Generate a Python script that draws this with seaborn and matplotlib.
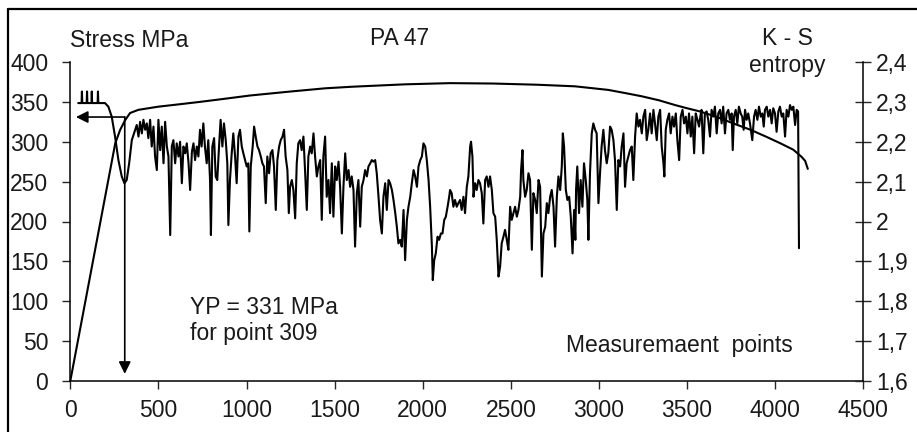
import numpy as np
import matplotlib
matplotlib.use("Agg")
import matplotlib.pyplot as plt
import seaborn as sns

# Stress curve (left axis, MPa)
stress_points = [0, 255, 283, 311, 339, 386, 500, 620, 736, 880, 1020, 1250, 1446, 1600,
                 1900, 2155, 2400, 2650, 2864, 3053, 3150, 3243, 3340, 3432, 3500, 3573,
                 3670, 3762, 3860, 3952, 4030, 4103, 4150, 4170, 4185]
stress_mpa = [0, 298, 315, 327, 336, 340, 344, 347, 350, 354, 358, 363, 367, 369,
              372, 373.5, 373, 371.5, 369.5, 365, 361, 357, 352, 346, 342, 338,
              331, 323, 315, 306, 298, 290, 281, 276, 266]

# K-S entropy (right axis)
ks_points = [
    45, 64, 66, 68, 93, 95, 97, 120, 122, 124, 155, 157, 159, 197, 216, 235, 254, 273,
    292, 307, 320, 334, 349, 368,
    377, 387, 396, 406, 415, 425, 434, 443, 453, 462, 472, 481, 491, 500, 510, 519,
    529, 538, 548, 557, 567, 576, 585, 595, 604, 614, 623, 633, 642, 652, 661, 671,
    680, 690, 699, 708, 718, 727,
    736, 745, 755, 764, 774, 783, 793, 798, 806, 816, 825, 834, 844, 853, 863, 872,
    882, 891, 897, 906, 916, 925, 935, 944, 954, 963, 973, 982, 992, 1001, 1010, 1016,
    1024, 1035, 1043, 1052, 1062, 1071, 1081, 1090, 1099, 1109, 1118, 1128, 1137, 1147,
    1156, 1166, 1175, 1185, 1194, 1204, 1213, 1222, 1232, 1240, 1247, 1257, 1266, 1276,
    1285, 1294, 1304, 1313, 1323, 1332, 1342, 1351, 1361, 1370, 1380, 1389, 1399, 1408,
    1418, 1427, 1436, 1446,
    1455, 1465, 1474, 1484, 1493, 1503, 1512, 1522, 1531, 1541, 1550, 1560, 1569, 1579,
    1588, 1597, 1607, 1616, 1626, 1635, 1645, 1654, 1664, 1673, 1683, 1692, 1702, 1711,
    1720, 1730, 1739, 1749, 1758, 1768, 1777, 1787, 1796, 1806, 1815, 1825, 1834, 1844,
    1853, 1862, 1872, 1881, 1891, 1900, 1910, 1919, 1929, 1938, 1948, 1957, 1967, 1976,
    1986, 1995, 2004, 2014, 2023, 2033, 2042, 2052, 2057, 2065, 2074, 2084, 2093, 2103,
    2112, 2122, 2131, 2141, 2150,
    2155, 2164, 2174, 2183, 2193, 2202, 2212, 2221, 2231, 2240, 2250, 2259, 2269, 2274,
    2282, 2288, 2297, 2306, 2316, 2325, 2335, 2344, 2354, 2363, 2373, 2382, 2392, 2401,
    2411, 2420, 2430, 2439, 2448, 2458, 2467, 2477, 2486, 2496, 2505, 2515, 2524, 2534,
    2543, 2553, 2558, 2566, 2571, 2581, 2590, 2600, 2609, 2619, 2628, 2638, 2647, 2657,
    2666, 2676, 2685, 2695, 2704, 2713, 2723, 2732, 2742, 2751, 2761, 2770, 2780, 2789,
    2795, 2802, 2812, 2821, 2831, 2840, 2850, 2859,
    2866, 2870, 2877, 2887, 2896, 2906, 2915, 2925, 2934, 2940, 2949, 2959, 2968, 2978,
    2987, 2997, 3006, 3015, 3025, 3034, 3044, 3053, 3063, 3072, 3082, 3091, 3101, 3110,
    3120, 3129, 3139, 3148, 3157, 3167, 3176, 3186, 3195, 3205, 3214, 3224, 3233, 3243,
    3252, 3262, 3271, 3280, 3290, 3299, 3309, 3318, 3328, 3337, 3347, 3356, 3366, 3371,
    3379, 3388, 3398, 3407, 3417, 3426, 3436, 3445, 3455, 3464, 3474, 3483, 3493, 3502,
    3511, 3521, 3530, 3540, 3549, 3559, 3568,
    3575, 3582, 3592, 3601, 3611, 3620, 3630, 3639, 3649, 3658, 3668, 3677, 3687, 3696,
    3705, 3715, 3724, 3734, 3743, 3753, 3759, 3766, 3776, 3785, 3794, 3804, 3813, 3821,
    3829, 3838, 3847, 3857, 3870, 3880, 3889, 3899, 3908, 3918, 3927, 3935, 3942, 3952,
    3961, 3971, 3980, 3989, 3999, 4008, 4018, 4027, 4037, 4046, 4056, 4065, 4075, 4084,
    4094, 4103, 4113, 4122, 4130, 4135,
]
ks_entropy = [
    2.297, 2.297, 2.326, 2.297, 2.297, 2.326, 2.297, 2.297, 2.326, 2.297, 2.297, 2.326,
    2.297, 2.297, 2.288, 2.263, 2.213, 2.154, 2.113, 2.096, 2.104, 2.146, 2.204, 2.230,
    2.242, 2.213, 2.250, 2.221, 2.255, 2.230, 2.246, 2.209, 2.255, 2.188, 2.238, 2.163,
    2.129, 2.255, 2.179, 2.238, 2.146, 2.250, 2.188, 2.163, 1.966, 2.188, 2.204, 2.146,
    2.196, 2.163, 2.200, 2.096, 2.188, 2.171, 2.196, 2.146, 2.079, 2.175, 2.196, 2.154,
    2.188, 2.163,
    2.230, 2.188, 2.246, 2.188, 2.146, 2.204, 2.104, 1.966, 2.188, 2.209, 2.113, 2.104,
    2.188, 2.255, 2.188, 2.246, 2.204, 2.146, 1.991, 2.104, 2.171, 2.221, 2.163, 2.096,
    2.213, 2.230, 2.188, 2.171, 2.154, 2.138, 2.146, 1.975, 2.138, 2.188, 2.238, 2.213,
    2.188, 2.179, 2.163, 2.146, 2.138, 2.046, 2.163, 2.121, 2.171, 2.179, 2.138, 2.029,
    2.154, 2.188, 2.204, 2.213, 2.230, 2.163, 2.129, 2.021, 2.087, 2.104, 2.079, 2.008,
    2.146, 2.196, 2.204, 2.179, 2.213, 2.129, 2.029, 2.163, 2.188, 2.171, 2.221, 2.163,
    2.113, 2.138, 2.154, 2.004, 2.163, 2.213,
    2.062, 2.104, 2.021, 2.146, 2.012, 2.138, 2.104, 2.150, 2.087, 1.970, 2.087, 2.171,
    2.104, 2.129, 2.087, 2.113, 2.079, 1.937, 2.071, 2.104, 1.987, 2.087, 2.104, 2.129,
    2.113, 2.138, 2.146, 2.154, 2.150, 2.154, 2.121, 2.062, 2.004, 1.970, 2.062, 2.096,
    2.029, 2.104, 2.096, 2.079, 2.054, 2.021, 1.987, 1.945, 1.954, 1.937, 2.029, 1.903,
    2.004, 2.037, 2.062, 2.096, 2.129, 2.113, 2.087, 2.138, 2.154, 2.163, 2.196, 2.188,
    2.154, 2.104, 2.037, 1.937, 1.853, 1.903, 1.920, 1.962, 1.954, 1.970, 1.970, 2.004,
    2.012, 2.037, 2.062,
    2.079, 2.071, 2.037, 2.054, 2.037, 2.046, 2.054, 2.029, 2.062, 2.021, 2.087, 2.113,
    2.188, 2.200, 2.163, 2.062, 2.096, 2.079, 2.104, 2.096, 2.071, 1.995, 2.104, 2.113,
    2.087, 2.113, 2.079, 2.021, 2.012, 1.954, 1.862, 1.887, 1.945, 1.962, 1.979, 1.954,
    1.929, 2.037, 2.004, 2.021, 2.037, 2.012, 2.029, 2.062, 2.129, 2.179, 2.104, 2.062,
    2.079, 2.121, 2.104, 1.929, 2.071, 2.054, 2.021, 2.104, 2.087, 1.862, 1.970, 1.987,
    2.046, 2.021, 2.062, 2.079, 2.037, 1.937, 2.062, 2.113, 2.079, 2.138, 2.221, 2.188,
    2.079, 2.054, 2.062, 2.012, 1.920, 2.029,
    1.954, 2.079, 2.138, 2.021, 2.104, 2.037, 2.146, 2.104, 2.054, 1.954, 2.121, 2.221,
    2.246, 2.230, 2.221, 2.046, 2.121, 2.188, 2.230, 2.179, 2.146, 2.171, 2.238, 2.230,
    2.204, 2.154, 2.029, 2.154, 2.138, 2.188, 2.221, 2.087, 2.146, 2.163, 2.179, 2.188,
    2.104, 2.213, 2.271, 2.238, 2.255, 2.221, 2.263, 2.280, 2.204, 2.230, 2.271, 2.221,
    2.280, 2.246, 2.204, 2.263, 2.280, 2.188, 2.146, 2.113, 2.230, 2.255, 2.271, 2.221,
    2.263, 2.238, 2.271, 2.204, 2.154, 2.263, 2.280, 2.246, 2.263, 2.221, 2.271, 2.213,
    2.263, 2.171, 2.271, 2.255, 2.238,
    2.263, 2.280, 2.171, 2.271, 2.276, 2.255, 2.213, 2.280, 2.263, 2.288, 2.221, 2.271,
    2.280, 2.246, 2.288, 2.221, 2.271, 2.280, 2.255, 2.271, 2.179, 2.263, 2.280, 2.246,
    2.288, 2.271, 2.263, 2.230, 2.280, 2.255, 2.271, 2.246, 2.204, 2.263, 2.280, 2.255,
    2.288, 2.263, 2.271, 2.238, 2.280, 2.288, 2.263, 2.280, 2.246, 2.284, 2.271, 2.225,
    2.276, 2.288, 2.263, 2.271, 2.213, 2.280, 2.263, 2.292, 2.280, 2.288, 2.242, 2.280,
    2.276, 1.933,
]

x_ticks = [0, 500, 1000, 1500, 2000, 2500, 3000, 3500, 4000, 4500]
stress_ticks = [0, 50, 100, 150, 200, 250, 300, 350, 400]
entropy_ticks = [1.6, 1.7, 1.8, 1.9, 2.0, 2.1, 2.2, 2.3, 2.4]
entropy_labels = ['1,6', '1,7', '1,8', '1,9', '2', '2,1', '2,2', '2,3', '2,4']

yield_point = 309
yield_stress = 331

sns.set_style("white")
plt.rcParams['font.family'] = ['Liberation Sans', 'DejaVu Sans']
txt_col = '#1a1a1a'
fs = 16.5

W, H = 917, 432
fig = plt.figure(figsize=(W / 100, H / 100), dpi=100)
ax = fig.add_axes([70.3 / W, 1 - 381 / H, (863.3 - 70.3) / W, (381 - 62) / H])

sns.lineplot(x=stress_points, y=stress_mpa, ax=ax, color='black', lw=1.5,
             estimator=None, sort=False)
ax.set_xlim(0, 4500)
ax.set_ylim(0, 400)
ax.set_xticks(x_ticks)
ax.set_yticks(stress_ticks)
ax.set_xlabel('')
ax.set_ylabel('')

# yield point arrows
ax.annotate('', xy=(32, yield_stress), xytext=(yield_point, yield_stress),
            arrowprops=dict(arrowstyle='-|>', color='black', lw=1.2,
                            mutation_scale=18, shrinkA=0, shrinkB=0))
ax.annotate('', xy=(yield_point, 9), xytext=(yield_point, yield_stress),
            arrowprops=dict(arrowstyle='-|>', color='black', lw=1.2,
                            mutation_scale=18, shrinkA=0, shrinkB=0))

ax2 = ax.twinx()
sns.lineplot(x=ks_points, y=ks_entropy, ax=ax2, color='black', lw=1.5,
             estimator=None, sort=False)
ax2.set_ylim(1.6, 2.4)
ax2.set_yticks(entropy_ticks)
ax2.set_yticklabels(entropy_labels)
ax2.set_ylabel('')

for a in (ax, ax2):
    a.spines['top'].set_visible(False)
    for s in a.spines.values():
        s.set_linewidth(1.1)
        s.set_color('black')
ax.spines['right'].set_visible(False)
ax2.spines['left'].set_visible(False)
ax2.spines['bottom'].set_visible(False)

ax.tick_params(axis='y', direction='out', length=5.8, width=1, pad=10,
               labelsize=fs, labelcolor=txt_col, left=True)
ax.tick_params(axis='x', direction='out', length=5.8, width=1, pad=7,
               labelsize=fs, labelcolor=txt_col, bottom=True)
ax2.tick_params(axis='y', direction='inout', length=11.5, width=1, pad=3.6,
                labelsize=fs, labelcolor=txt_col, right=True)


def px(x, y):
    return x / W, 1 - y / H


fig.text(*px(70, 47), 'Stress MPa', fontsize=fs, color=txt_col, va='baseline')
fig.text(*px(370, 45), 'PA 47', fontsize=fs, color=txt_col, va='baseline')
fig.text(*px(787, 45), 'K - S', fontsize=fs, color=txt_col, va='baseline', ha='center')
fig.text(*px(787, 72), 'entropy', fontsize=fs, color=txt_col, va='baseline', ha='center')
fig.text(*px(190, 314), 'YP = 331 MPa', fontsize=fs, color=txt_col, va='baseline')
fig.text(*px(190, 340), 'for point 309', fontsize=fs, color=txt_col, va='baseline')
fig.text(*px(566, 352), 'Measuremaent  points', fontsize=fs, color=txt_col, va='baseline')

# outer frame (top and left edges visible)
fig.add_artist(plt.Line2D([7.5 / W, 7.5 / W], [0, 1 - 8.5 / H], color='black', lw=1.6))
fig.add_artist(plt.Line2D([7.5 / W, 1], [1 - 8.5 / H, 1 - 8.5 / H], color='black', lw=1.6))

fig.savefig('out.png', dpi=100)
